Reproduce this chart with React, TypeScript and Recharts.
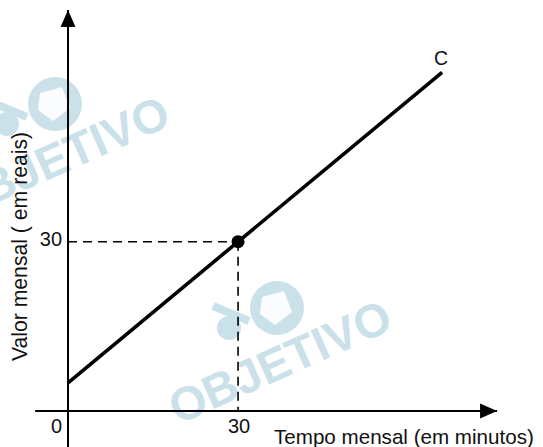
import React from 'react';
import { LineChart, Line, XAxis, YAxis, ReferenceLine, ReferenceDot, Customized } from 'recharts';

// line C: tempo (min) -> valor (R$)
const tempo = [0, 66];
const valor = [5, 60];
const marked = { tempo: 30, valor: 30 };
const xTicks = [0, 30];
const yTicks = [30];
const xTitle = 'Tempo mensal (em minutos)';
const yTitle = 'Valor mensal ( em reais)';
const lineName = 'C';

const data = tempo.map((t, i) => ({ tempo: t, valor: valor[i] }));

const FONT = 'Arial, "Liberation Sans", sans-serif';
const WM = '#cbe1ea';

const arrowLine = (dir: 'up' | 'right') => (props: any) => {
  const { x1, y1, x2, y2 } = props;
  const L = 17;
  const W = 7.5;
  let head: string;
  if (dir === 'up') {
    const tx = x2, ty = Math.min(y1, y2);
    head = `${tx},${ty} ${tx - W},${ty + L} ${tx + W},${ty + L}`;
  } else {
    const tx = Math.max(x1, x2), ty = y2;
    head = `${tx},${ty} ${tx - L},${ty - W} ${tx - L},${ty + W}`;
  }
  return (
    <g>
      <line x1={x1} y1={y1} x2={x2} y2={y2} stroke="#000" strokeWidth={2} />
      <polygon points={head} fill="#000" />
    </g>
  );
};

const Watermark = ({ cx, cy }: { cx: number; cy: number }) => (
  <g>
    <g transform={`translate(${cx - 3},${cy - 54})`}>
      <circle r={27} fill={WM} />
      <polygon points="-15,-11 7,-17 15,4 -2,17 -17,6" fill="#fff" opacity={0.9} />
      <circle cx={-48} cy={20} r={12} fill={WM} />
      <line x1={-64} y1={-2} x2={-28} y2={13} stroke={WM} strokeWidth={8} />
    </g>
    <text
      x={cx}
      y={cy + 16}
      transform={`rotate(-24, ${cx}, ${cy})`}
      textAnchor="middle"
      fontFamily={FONT}
      fontWeight={900}
      fontSize={47}
      fill={WM}
    >
      OBJETIVO
    </text>
  </g>
);

const Decor = () => (
  <g>
    <Watermark cx={58} cy={158} />
    <Watermark cx={280} cy={362} />
    <text x={274} y={444} fontFamily={FONT} fontSize={20.6} fill="#111">
      {xTitle}
    </text>
    <text
      x={27}
      y={246.5}
      transform="rotate(-90, 27, 246.5)"
      textAnchor="middle"
      fontFamily={FONT}
      fontSize={21.2}
      fill="#111"
    >
      {yTitle}
    </text>
  </g>
);

const xTickShape = (v: number) => (props: any) => (
  <text
    x={v === 0 ? props.cx - 6 : props.cx + 1}
    y={props.cy + 22}
    textAnchor={v === 0 ? 'end' : 'middle'}
    fontFamily={FONT}
    fontSize={20}
    fill="#111"
  >
    {v}
  </text>
);

const yTickShape = (v: number) => (props: any) => (
  <text x={props.cx - 6} y={props.cy + 4.5} textAnchor="end" fontFamily={FONT} fontSize={20} fill="#111">
    {v}
  </text>
);

const nameShape = (props: any) => (
  <text x={props.cx - 1} y={props.cy - 7} textAnchor="middle" fontFamily={FONT} fontSize={19.5} fill="#111">
    {lineName}
  </text>
);

export default function App() {
  const last = data[data.length - 1];
  return (
    <div style={{ position: 'absolute', left: 0, top: 0, background: '#fff' }}>
      <LineChart width={543} height={447} data={data} margin={{ top: 0, right: 0, bottom: 0, left: 0 }}>
        <Customized component={Decor} />
        <XAxis type="number" dataKey="tempo" domain={[-12, 83.8]} allowDataOverflow hide />
        <YAxis type="number" domain={[-6.38, 72.83]} allowDataOverflow hide />
        <ReferenceLine
          segment={[{ x: 0, y: -6.5 }, { x: 0, y: 71.06 }]}
          shape={arrowLine('up')}
          ifOverflow="visible"
        />
        <ReferenceLine
          segment={[{ x: -5.8, y: 0 }, { x: 75.7, y: 0 }]}
          shape={arrowLine('right')}
          ifOverflow="visible"
        />
        <ReferenceLine
          segment={[{ x: 0, y: marked.valor }, { x: marked.tempo, y: marked.valor }]}
          stroke="#000"
          strokeWidth={1.6}
          strokeDasharray="9 6"
        />
        <ReferenceLine
          segment={[{ x: marked.tempo, y: marked.valor }, { x: marked.tempo, y: 0 }]}
          stroke="#000"
          strokeWidth={1.6}
          strokeDasharray="9 6"
        />
        <Line
          type="linear"
          dataKey="valor"
          stroke="#000"
          strokeWidth={3.6}
          strokeLinecap="butt"
          dot={false}
          activeDot={false}
          isAnimationActive={false}
        />
        <ReferenceDot x={marked.tempo} y={marked.valor} r={6.5} fill="#000" stroke="none" />
        <ReferenceDot x={last.tempo} y={last.valor} r={0} shape={nameShape} />
        {xTicks.map((v) => (
          <ReferenceDot key={'x' + v} x={v} y={0} r={0} shape={xTickShape(v)} />
        ))}
        {yTicks.map((v) => (
          <ReferenceDot key={'y' + v} x={0} y={v} r={0} shape={yTickShape(v)} />
        ))}
      </LineChart>
    </div>
  );
}
